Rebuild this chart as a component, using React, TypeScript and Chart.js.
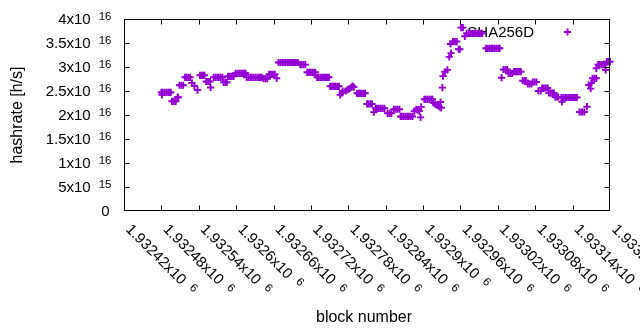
import React, { useEffect, useRef } from 'react';
import { Chart, registerables } from 'chart.js';

Chart.register(...registerables);

const seriesName = 'SHA256D';
const xTitle = 'block number';
const yTitle = 'hashrate [h/s]';

const blocks = [
  1932480, 1932481, 1932482, 1932485, 1932488, 1932491, 1932493, 1932495,
  1932497, 1932500, 1932503, 1932506, 1932507,
  1932509, 1932512, 1932515,
  1932518, 1932520, 1932523, 1932526,
  1932529, 1932533, 1932538,
  1932542, 1932545, 1932547, 1932549,
  1932552, 1932555, 1932558, 1932559,
  1932564, 1932567, 1932570, 1932572, 1932575, 1932578,
  1932580, 1932583, 1932585,
  1932587, 1932590, 1932593, 1932596,
  1932599, 1932602, 1932605, 1932608, 1932611, 1932613, 1932615,
  1932617, 1932620, 1932623, 1932625, 1932628, 1932631, 1932634, 1932637, 1932639, 1932641,
  1932644, 1932647, 1932650,
  1932653, 1932656, 1932659, 1932662, 1932665,
  1932668, 1932671, 1932674, 1932677, 1932679, 1932682, 1932685, 1932688, 1932691, 1932693, 1932696, 1932699,
  1932703, 1932705, 1932708, 1932711,
  1932714, 1932717, 1932719, 1932722, 1932725, 1932727,
  1932730, 1932732, 1932735, 1932738, 1932741, 1932744, 1932746, 1932749,
  1932751, 1932754, 1932757, 1932759, 1932762, 1932765,
  1932767, 1932770, 1932771, 1932776, 1932779, 1932782, 1932785, 1932787, 1932789,
  1932794, 1932797, 1932799, 1932802, 1932805, 1932807,
  1932810, 1932812, 1932815, 1932818,
  1932821, 1932824, 1932826, 1932829, 1932832, 1932835, 1932838,
  1932843, 1932846, 1932849,
  1932853, 1932856, 1932859, 1932862,
  1932864, 1932866, 1932869, 1932872, 1932875, 1932877, 1932880, 1932883,
  1932886, 1932889, 1932891, 1932894, 1932896, 1932897,
  1932902, 1932904, 1932907, 1932910, 1932913, 1932915,
  1932917, 1932920, 1932923, 1932926, 1932928, 1932929,
  1932931, 1932932, 1932935, 1932939,
  1932942, 1932944, 1932945,
  1932948, 1932951, 1932954,
  1932957, 1932959,
  1932961, 1932964, 1932967,
  1932970, 1932973, 1932976, 1932979, 1932982, 1932984, 1932987, 1932990, 1932993, 1932995,
  1933001, 1933004, 1933007, 1933010, 1933012, 1933015, 1933018, 1933021, 1933023,
  1933026,
  1933029, 1933032, 1933035,
  1933037, 1933040, 1933043,
  1933046, 1933049, 1933051, 1933054, 1933057,
  1933060, 1933063, 1933065,
  1933068, 1933071, 1933074,
  1933076, 1933079, 1933082,
  1933085, 1933089,
  1933091, 1933094, 1933097, 1933100,
  1933102, 1933104, 1933107, 1933110,
  1933112, 1933115, 1933117,
  1933122, 1933123, 1933125, 1933128, 1933130, 1933133, 1933136, 1933139, 1933142, 1933144, 1933147,
  1933151, 1933154, 1933156, 1933159,
  1933163,
  1933166, 1933169, 1933170,
  1933172, 1933175, 1933178, 1933178,
  1933181, 1933183, 1933186, 1933189, 1933192, 1933193,
  1933195, 1933197, 1933200,
];

// hashrate in units of 10^16 h/s
const hashrateE16 = [
  2.47, 2.42, 2.47, 2.47, 2.47, 2.47, 2.47, 2.47,
  2.285, 2.285, 2.285, 2.37, 2.37,
  2.62, 2.62, 2.62,
  2.785, 2.785, 2.785, 2.785,
  2.667, 2.604, 2.52,
  2.827, 2.827, 2.827, 2.827,
  2.698, 2.698, 2.698, 2.573,
  2.785, 2.785, 2.785, 2.785, 2.785, 2.785,
  2.681, 2.681, 2.681,
  2.806, 2.806, 2.806, 2.806,
  2.869, 2.869, 2.869, 2.869, 2.869, 2.869, 2.869,
  2.785, 2.785, 2.785, 2.785, 2.785, 2.785, 2.785, 2.785, 2.785, 2.785,
  2.756, 2.756, 2.756,
  2.848, 2.848, 2.848, 2.848, 2.765,
  3.094, 3.094, 3.094, 3.094, 3.094, 3.094, 3.094, 3.094, 3.094, 3.094, 3.094, 3.094,
  3.048, 3.048, 3.048, 3.048,
  2.89, 2.89, 2.89, 2.89, 2.89, 2.89,
  2.785, 2.785, 2.785, 2.785, 2.785, 2.785, 2.785, 2.785,
  2.598, 2.598, 2.598, 2.598, 2.598, 2.598,
  2.42, 2.46, 2.5, 2.5, 2.53, 2.55, 2.58, 2.6, 2.58,
  2.452, 2.452, 2.452, 2.452, 2.452, 2.452,
  2.23, 2.23, 2.23, 2.23,
  2.06, 2.14, 2.14, 2.14, 2.14, 2.14, 2.14,
  2.035, 2.035, 2.035,
  2.12, 2.12, 2.12, 2.12,
  1.97, 1.97, 1.97, 1.97, 1.97, 1.97, 1.97, 1.97,
  2.08, 2.12, 2.1, 2.08, 1.95, 2.17,
  2.327, 2.327, 2.327, 2.327, 2.327, 2.327,
  2.25, 2.22, 2.2, 2.17, 2.27, 2.15,
  2.57, 2.81, 2.9, 2.94,
  3.21, 3.48, 3.29,
  3.53, 3.53, 3.53,
  3.37, 3.37,
  3.82, 3.82, 3.64,
  3.7, 3.7, 3.7, 3.7, 3.7, 3.7, 3.7, 3.7, 3.7, 3.7,
  3.39, 3.39, 3.39, 3.39, 3.39, 3.39, 3.39, 3.39, 3.39,
  2.777,
  2.948, 2.948, 2.948,
  2.869, 2.869, 2.869,
  2.902, 2.902, 2.902, 2.902, 2.902,
  2.715, 2.715, 2.715,
  2.646, 2.646, 2.646,
  2.6875, 2.6875, 2.6875,
  2.5, 2.5,
  2.5625, 2.5625, 2.5625, 2.5625,
  2.458, 2.458, 2.458, 2.458,
  2.375, 2.375, 2.375,
  2.365, 2.277, 2.365, 2.365, 2.365, 2.365, 2.365, 2.365, 2.365, 2.365, 2.365,
  2.0625, 2.0625, 2.0625, 2.0625,
  2.173,
  2.625, 2.55, 2.667,
  2.765, 2.765, 2.765, 2.973,
  3.05, 3.05, 3.05, 3.05, 3.05, 2.9375,
  3.11, 3.11, 3.11,
];

const X_MIN = 1932420;
const X_MAX = 1933200;
const Y_MIN = 0;
const Y_MAX = 4e16;

const xTickValues = [1932420, 1932480, 1932540, 1932600, 1932660, 1932720, 1932780, 1932840, 1932900, 1932960, 1933020, 1933080, 1933140, 1933200];
const xTickMain = ['1.93242x10', '1.93248x10', '1.93254x10', '1.9326x10', '1.93266x10', '1.93272x10', '1.93278x10', '1.93284x10', '1.9329x10', '1.93296x10', '1.93302x10', '1.93308x10', '1.93314x10', '1.9332x10'];
const xTickExp = ['6', '6', '6', '6', '6', '6', '6', '6', '6', '6', '6', '6', '6', '6'];

const yTickValues = [0, 5e15, 1e16, 1.5e16, 2e16, 2.5e16, 3e16, 3.5e16, 4e16];
const yTickMain = ['0', '5x10', '1x10', '1.5x10', '2x10', '2.5x10', '3x10', '3.5x10', '4x10'];
const yTickExp = ['', '15', '16', '16', '16', '16', '16', '16', '16'];

const FONT = '"Liberation Sans", Arial, sans-serif';
const PURPLE = 'rgb(148,0,211)';
const MAIN_SIZE = 15;
const SUP_SIZE = 11.5;
const SUP_GAP = 8;
const MARK_R = 3.6;
const MARK_W = 1.9;

function drawCross(ctx: CanvasRenderingContext2D, x: number, y: number, r: number) {
  ctx.beginPath();
  ctx.moveTo(x - r, y);
  ctx.lineTo(x + r, y);
  ctx.moveTo(x, y - r);
  ctx.lineTo(x, y + r);
  ctx.stroke();
}

const gnuplotFrame = {
  id: 'gnuplotFrame',
  beforeDatasetsDraw(chart: any) {
    const ctx: CanvasRenderingContext2D = chart.ctx;
    const a = chart.chartArea;
    ctx.save();
    ctx.fillStyle = '#000';
    ctx.font = `15px ${FONT}`;
    ctx.textAlign = 'right';
    ctx.textBaseline = 'alphabetic';
    ctx.fillText(seriesName, a.right - 76, a.top + 18.3);
    ctx.restore();
  },
  afterDatasetsDraw(chart: any) {
    const ctx: CanvasRenderingContext2D = chart.ctx;
    const a = chart.chartArea;
    const xs = chart.scales.x;
    const ys = chart.scales.y;
    ctx.save();

    // legend sample
    ctx.strokeStyle = PURPLE;
    ctx.lineWidth = MARK_W;
    drawCross(ctx, a.right - 42.5, a.top + 13, MARK_R);

    // border
    ctx.strokeStyle = '#000';
    ctx.lineWidth = 1;
    const L = Math.round(a.left) + 0.5;
    const R = Math.round(a.right) - 0.5;
    const T = Math.round(a.top) + 0.5;
    const B = Math.round(a.bottom) - 0.5;
    ctx.strokeRect(L, T, R - L, B - T);

    // ticks (inward, mirrored)
    const TL = 5;
    ctx.beginPath();
    yTickValues.forEach((v) => {
      if (v === Y_MIN || v === Y_MAX) return;
      const py = Math.round(ys.getPixelForValue(v)) + 0.5;
      ctx.moveTo(L, py); ctx.lineTo(L + TL, py);
      ctx.moveTo(R, py); ctx.lineTo(R - TL, py);
    });
    xTickValues.forEach((v) => {
      if (v === X_MIN || v === X_MAX) return;
      const px = Math.round(xs.getPixelForValue(v)) + 0.5;
      ctx.moveTo(px, B); ctx.lineTo(px, B - TL);
      ctx.moveTo(px, T); ctx.lineTo(px, T + TL);
    });
    ctx.stroke();

    ctx.fillStyle = '#000';
    ctx.textBaseline = 'alphabetic';

    // y tick labels
    const yLabelRight = a.left - 12.5;
    yTickValues.forEach((v, i) => {
      const py = ys.getPixelForValue(v);
      const exp = yTickExp[i];
      let right = yLabelRight;
      if (exp) {
        ctx.font = `${SUP_SIZE}px ${FONT}`;
        ctx.textAlign = 'right';
        const w = ctx.measureText(exp).width;
        ctx.fillText(exp, right, py + 1);
        right = right - w - SUP_GAP;
      } else {
        right = yLabelRight - 2;
      }
      ctx.font = `${MAIN_SIZE}px ${FONT}`;
      ctx.textAlign = 'right';
      ctx.fillText(yTickMain[i], right, py + 5);
    });

    // x tick labels (rotated -45deg, starting at the tick)
    xTickValues.forEach((v, i) => {
      const px = xs.getPixelForValue(v);
      ctx.save();
      ctx.translate(px + 1, a.bottom + 19);
      ctx.rotate(Math.PI / 4);
      ctx.textAlign = 'left';
      ctx.font = `${MAIN_SIZE}px ${FONT}`;
      const wm = ctx.measureText(xTickMain[i]).width;
      ctx.fillText(xTickMain[i], 0, 0);
      ctx.font = `${SUP_SIZE}px ${FONT}`;
      ctx.fillText(xTickExp[i], wm + SUP_GAP, -4);
      ctx.restore();
    });

    // axis titles
    ctx.font = `16px ${FONT}`;
    ctx.textAlign = 'center';
    ctx.fillText(xTitle, 364, 321.5);
    ctx.save();
    ctx.translate(21.5, (a.top + a.bottom) / 2);
    ctx.rotate(-Math.PI / 2);
    ctx.textAlign = 'center';
    ctx.fillText(yTitle, 0, 0);
    ctx.restore();

    ctx.restore();
  },
};

export default function App() {
  const canvasRef = useRef<HTMLCanvasElement | null>(null);

  useEffect(() => {
    document.body.style.margin = '0';
    const canvas = canvasRef.current;
    if (!canvas) return;
    const points = blocks.map((b, i) => ({ x: b, y: hashrateE16[i] * 1e16 }));
    const chart = new Chart(canvas, {
      type: 'scatter',
      data: {
        datasets: [
          {
            label: seriesName,
            data: points,
            pointStyle: 'cross',
            pointRadius: MARK_R,
            pointBorderWidth: MARK_W,
            borderColor: PURPLE,
            backgroundColor: PURPLE,
            showLine: false,
            clip: false as any,
          } as any,
        ],
      },
      options: {
        responsive: false,
        animation: false,
        devicePixelRatio: 1,
        events: [],
        layout: { padding: { left: 0, right: 30, top: 19, bottom: 0 } },
        plugins: {
          legend: { display: false },
          tooltip: { enabled: false },
          title: { display: false },
        },
        scales: {
          x: {
            type: 'linear',
            min: X_MIN,
            max: X_MAX,
            grid: { display: false },
            border: { display: false },
            ticks: { display: false },
            afterFit: (s: any) => { s.height = 119; },
          },
          y: {
            type: 'linear',
            min: Y_MIN,
            max: Y_MAX,
            grid: { display: false },
            border: { display: false },
            ticks: { display: false },
            afterFit: (s: any) => { s.width = 124; },
          },
        },
      } as any,
      plugins: [gnuplotFrame],
    });
    return () => chart.destroy();
  }, []);

  return (
    <div style={{ position: 'fixed', left: 0, top: 0, width: 640, height: 330, background: '#fff' }}>
      <canvas ref={canvasRef} width={640} height={330} style={{ display: 'block' }} />
    </div>
  );
}
